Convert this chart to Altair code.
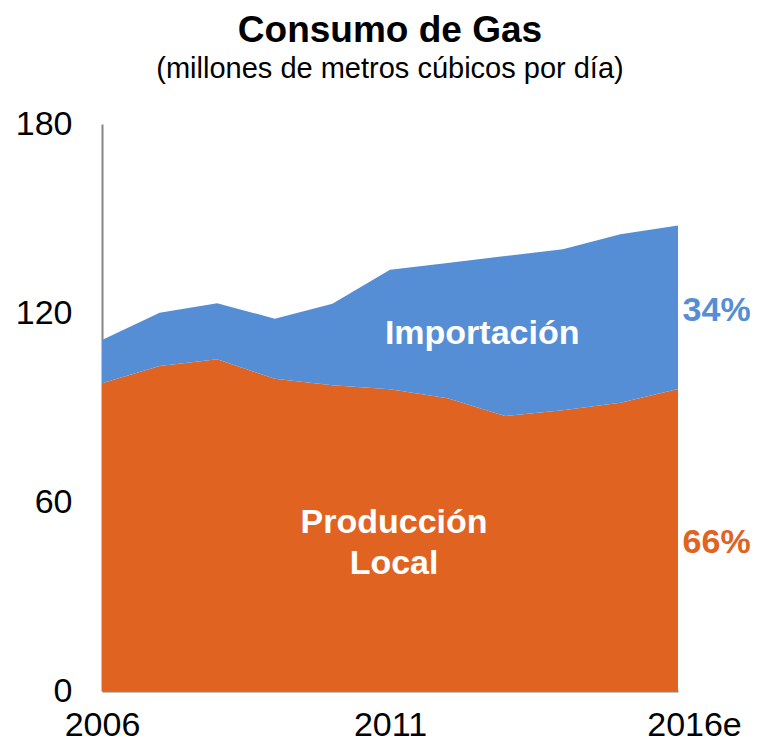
import altair as alt
import pandas as pd

years = [2006, 2007, 2008, 2009, 2010, 2011, 2012, 2013, 2014, 2015, 2016]
produccion = [97.7, 103.2, 105.3, 99.1, 97.1, 95.8, 92.9, 87.3, 89.1, 91.5, 95.9]
importacion = [13.7, 16.9, 17.8, 19.1, 25.8, 37.9, 43.0, 50.8, 51.1, 53.5, 51.9]

series_names = ["Producción Local", "Importación"]
colors = ["#E06322", "#558ED5"]

rows = []
for i, y in enumerate(years):
    rows.append({"year": y, "serie": series_names[0], "valor": produccion[i], "ord": 0})
    rows.append({"year": y, "serie": series_names[1], "valor": importacion[i], "ord": 1})
df = pd.DataFrame(rows)

FONT = "Liberation Sans"

x_scale = alt.Scale(domain=[2006, 2016], nice=False, zero=False)
y_scale = alt.Scale(domain=[0, 180], nice=False)

area = alt.Chart(df).mark_area(opacity=1).encode(
    x=alt.X("year:Q", scale=x_scale, title=None,
            axis=alt.Axis(values=[2006, 2011, 2016], format="d",
                          labelExpr="datum.value == 2016 ? '2016e' : datum.label",
                          labelFontSize=34, labelFont=FONT, labelColor="#000000",
                          labelPadding=17, ticks=False, grid=False,
                          domainColor="#868686", domainWidth=2,
                          labelOffset={"condition": {"test": "datum.value == 2016", "value": 16}, "value": 0},
                          labelFlush=False, labelOverlap=False)),
    y=alt.Y("valor:Q", stack="zero", scale=y_scale, title=None,
            axis=alt.Axis(values=[0, 60, 120, 180], labelFontSize=34, labelFont=FONT,
                          labelColor="#000000", labelPadding=30, ticks=False, grid=False,
                          domainColor="#868686", domainWidth=2)),
    color=alt.Color("serie:N", scale=alt.Scale(domain=series_names, range=colors), legend=None),
    order=alt.Order("ord:Q"),
)

inner_labels = pd.DataFrame({
    "x": [2012.6, 2011.07, 2011.07],
    "y": [113.3, 53.3, 40.3],
    "t": ["Importación", "Producción", "Local"],
})
inner = alt.Chart(inner_labels).mark_text(
    font=FONT, fontSize=34, fontWeight="bold", color="white", align="center", baseline="middle"
).encode(x=alt.X("x:Q", scale=x_scale), y=alt.Y("y:Q", scale=y_scale), text="t:N")

pct_labels = pd.DataFrame({
    "x": [2016.67, 2016.67],
    "y": [120.6, 47.0],
    "t": ["34%", "66%"],
    "serie": ["Importación", "Producción Local"],
})
pct = alt.Chart(pct_labels).mark_text(
    font=FONT, fontSize=34, fontWeight="bold", align="center", baseline="middle"
).encode(
    x=alt.X("x:Q", scale=x_scale), y=alt.Y("y:Q", scale=y_scale), text="t:N",
    color=alt.Color("serie:N", scale=alt.Scale(domain=series_names, range=colors), legend=None),
)

chart = alt.layer(area, inner, pct).properties(
    width=576, height=567,
    title=alt.TitleParams(
        text="Consumo de Gas",
        subtitle="(millones de metros cúbicos por día)",
        font=FONT, fontSize=37, fontWeight="bold", color="#000000",
        subtitleFont=FONT, subtitleFontSize=29, subtitleColor="#000000",
        subtitlePadding=5, anchor="middle", offset=22,
    ),
    autosize=alt.AutoSizeParams(type="none"),
    padding={"left": 94, "top": 116, "right": 72, "bottom": 52},
).configure_view(stroke=None)

chart.save("out.html", embed_options={"renderer": "svg", "actions": False})
